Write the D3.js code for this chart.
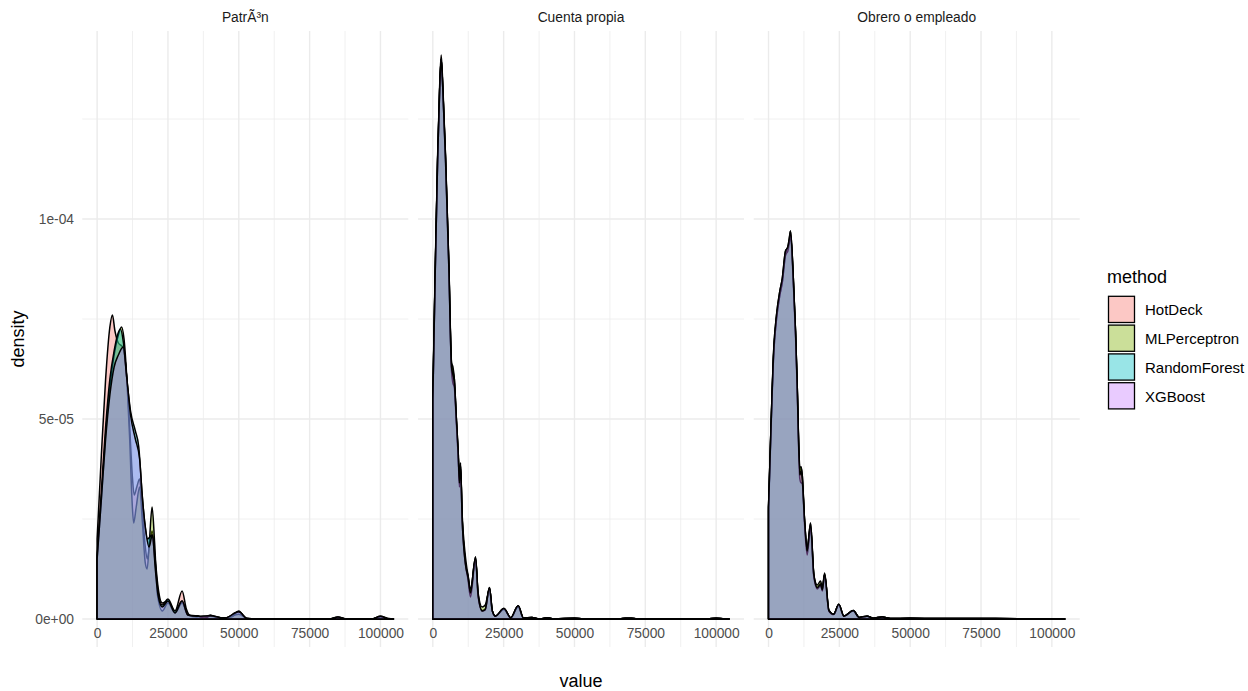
<!DOCTYPE html>
<html>
<head>
<meta charset="utf-8">
<script src="https://cdn.jsdelivr.net/npm/d3@7"></script>
<style>
  body { margin: 0; background: #fff; }
  svg { display: block; font-family: "Liberation Sans", Arial, sans-serif; }
</style>
</head>
<body>
<svg id="chart" width="1248" height="691"></svg>
<script>
// ---------- data ----------
const panels = ["PatrÃ³n", "Cuenta propia", "Obrero o empleado"];
const methods = ["HotDeck", "MLPerceptron", "RandomForest", "XGBoost"];
const methodColors = ["#F8766D", "#7CAE00", "#00BFC4", "#C77CFF"];

const xTicks = [0, 25000, 50000, 75000, 100000];
const xTickLabels = ["0", "25000", "50000", "75000", "100000"];
const xMinorTicks = [12500, 37500, 62500, 87500];
const yTicks = [0, 5e-5, 1e-4];
const yTickLabels = ["0e+00", "5e-05", "1e-04"];
const yMinorTicks = [2.5e-5, 7.5e-5, 1.25e-4];

// density curves: [value, density]
const patronHotDeck = [[0,2.0e-5],[1500,4.1e-5],[3000,6.0e-5],[4500,7.3e-5],[5400,7.6e-5],[6300,7.2e-5],[7500,6.9e-5],[9000,6.8e-5],[10500,6.0e-5],[11500,4.8e-5],[12400,3.6e-5],[13100,3.1e-5],[14000,3.3e-5],[15000,3.5e-5],[16000,2.7e-5],[17000,1.8e-5],[17700,1.5e-5],[18600,1.9e-5],[19400,2.2e-5],[20500,1.5e-5],[21500,8e-6],[23000,4e-6],[25000,4.5e-6],[27500,2e-6],[30000,7e-6],[31500,2.5e-6],[33000,8e-7],[35300,8e-7],[37500,3e-7],[40000,1e-6],[42500,2e-7],[45000,3e-7],[47500,5e-7],[50000,2e-6],[52500,2e-7],[55000,0],[82000,0],[85000,5e-7],[88000,0],[97000,0],[100000,7e-7],[103000,1e-7],[104600,0]];
const patronMLPerceptron = [[0,1.5e-5],[1500,3.0e-5],[3000,4.6e-5],[4500,5.8e-5],[6000,6.6e-5],[7500,7.1e-5],[8600,7.3e-5],[9500,7.0e-5],[10500,6.0e-5],[11500,4.5e-5],[12300,3.0e-5],[12900,2.4e-5],[13800,2.8e-5],[15000,3.3e-5],[16000,2.4e-5],[17000,1.4e-5],[17650,1.25e-5],[18500,2.0e-5],[19400,2.8e-5],[20300,1.9e-5],[21300,6e-6],[23000,2e-6],[25000,4e-6],[27500,1.5e-6],[30000,4e-6],[32000,1e-6],[35000,5e-7],[40000,7e-7],[45000,2e-7],[50000,1.2e-6],[53000,1e-7],[60000,0],[82000,0],[85000,3e-7],[88000,0],[97000,0],[100000,5e-7],[103000,0],[104600,0]];
const patronRandomForest = [[0,1.6e-5],[1500,3.2e-5],[3000,4.8e-5],[4500,6.0e-5],[6000,6.7e-5],[7200,7.1e-5],[8200,7.25e-5],[9300,6.9e-5],[10500,6.0e-5],[11800,5.2e-5],[13500,4.7e-5],[14700,4.3e-5],[15800,3.2e-5],[16800,2.4e-5],[17800,2.0e-5],[19400,2.1e-5],[20500,1.4e-5],[21500,7e-6],[23000,3.5e-6],[25000,5e-6],[27500,2e-6],[30000,4.5e-6],[32000,1e-6],[35300,8e-7],[38000,2e-7],[40000,8e-7],[45000,2e-7],[50000,1.8e-6],[53000,1e-7],[60000,0],[82000,0],[85000,4e-7],[88000,0],[97000,0],[100000,6e-7],[103000,0],[104600,0]];
const patronXGBoost = [[0,1.5e-5],[1500,3.0e-5],[3000,4.5e-5],[4500,5.6e-5],[6000,6.3e-5],[7500,6.6e-5],[9200,6.8e-5],[10500,6.0e-5],[11800,5.1e-5],[13500,4.5e-5],[15000,4.0e-5],[16000,3.0e-5],[17200,2.2e-5],[18300,1.8e-5],[19500,2.1e-5],[20600,1.2e-5],[21500,6e-6],[23000,3e-6],[25000,4.5e-6],[27500,1.5e-6],[30000,4.5e-6],[32000,1e-6],[35300,7e-7],[40000,8e-7],[45000,2e-7],[50000,1.8e-6],[53000,1e-7],[60000,0],[82000,0],[85000,5e-7],[88000,0],[97000,0],[100000,7e-7],[103000,0],[104600,0]];

const cuentaHotDeck = [[0,5.6e-5],[800,8.6e-5],[1700,1.16e-4],[2400,1.33e-4],[2950,1.41e-4],[3500,1.34e-4],[4470,1.16e-4],[5650,8.9e-5],[6600,6.4e-5],[7100,6.2e-5],[7600,6.0e-5],[8240,5.1e-5],[9000,4.1e-5],[9400,3.4e-5],[9770,3.9e-5],[10360,2.5e-5],[11300,1.55e-5],[11770,1.27e-5],[12400,1.1e-5],[13300,7.0e-6],[15070,1.55e-5],[16000,6e-6],[17400,2.1e-6],[18500,2.5e-6],[20000,7.9e-6],[21000,2e-6],[22100,7e-7],[25070,2.6e-6],[27500,3e-7],[30130,3.3e-6],[32000,2e-7],[35000,4e-7],[37500,0],[40400,3e-7],[43000,0],[50000,2e-7],[53000,0],[66000,0],[68000,2e-7],[70000,2e-7],[72000,0],[97000,0],[100000,2e-7],[103000,0],[104600,0]];
const cuentaMLPerceptron = [[0,5.4e-5],[800,8.5e-5],[1700,1.15e-4],[2400,1.32e-4],[2950,1.40e-4],[3500,1.33e-4],[4470,1.15e-4],[5650,8.8e-5],[6600,6.4e-5],[7100,6.3e-5],[7600,6.0e-5],[8240,5.1e-5],[9000,4.0e-5],[9400,3.5e-5],[9770,3.8e-5],[10360,2.6e-5],[11300,1.7e-5],[11770,1.4e-5],[12400,1.1e-5],[13300,7.5e-6],[15070,1.5e-5],[16000,6.5e-6],[17400,3.0e-6],[18500,3.5e-6],[20000,7.5e-6],[21000,2e-6],[22100,7e-7],[25070,2.4e-6],[27500,3e-7],[30130,3.0e-6],[32000,2e-7],[35000,4e-7],[37500,0],[40400,3e-7],[43000,0],[50000,2e-7],[53000,0],[66000,0],[68000,2e-7],[70000,2e-7],[72000,0],[97000,0],[100000,2e-7],[103000,0],[104600,0]];
const cuentaRandomForest = [[0,5.5e-5],[800,8.5e-5],[1700,1.15e-4],[2400,1.32e-4],[2950,1.40e-4],[3500,1.33e-4],[4470,1.16e-4],[5650,8.9e-5],[6600,6.2e-5],[7100,5.9e-5],[7600,5.8e-5],[8240,5.0e-5],[9000,4.0e-5],[9400,3.3e-5],[9770,3.8e-5],[10360,2.5e-5],[11300,1.5e-5],[11770,1.25e-5],[12400,1.0e-5],[13300,5.5e-6],[15070,1.5e-5],[16000,5.5e-6],[17400,2.0e-6],[18500,2.3e-6],[20000,7.8e-6],[21000,2e-6],[22100,7e-7],[25070,2.6e-6],[27500,3e-7],[30130,3.3e-6],[32000,2e-7],[35000,4e-7],[37500,0],[40400,3e-7],[43000,0],[50000,2e-7],[53000,0],[66000,0],[68000,2e-7],[70000,2e-7],[72000,0],[97000,0],[100000,2e-7],[103000,0],[104600,0]];
const cuentaXGBoost = [[0,5.5e-5],[800,8.5e-5],[1700,1.15e-4],[2400,1.32e-4],[2950,1.40e-4],[3500,1.33e-4],[4470,1.15e-4],[5650,8.8e-5],[6600,6.3e-5],[7100,6.1e-5],[7600,5.9e-5],[8240,5.1e-5],[9000,4.1e-5],[9400,3.4e-5],[9770,3.9e-5],[10360,2.5e-5],[11300,1.5e-5],[11770,1.25e-5],[12400,1.05e-5],[13300,6.5e-6],[15070,1.55e-5],[16000,6e-6],[17400,2.0e-6],[18500,2.4e-6],[20000,7.9e-6],[21000,2e-6],[22100,7e-7],[25070,2.6e-6],[27500,3e-7],[30130,3.3e-6],[32000,2e-7],[35000,4e-7],[37500,0],[40400,3e-7],[43000,0],[50000,2e-7],[53000,0],[66000,0],[68000,2e-7],[70000,2e-7],[72000,0],[97000,0],[100000,2e-7],[103000,0],[104600,0]];

const obreroHotDeck = [[0,2.8e-5],[700,4.4e-5],[1880,6.8e-5],[2820,7.6e-5],[4000,8.2e-5],[4830,8.5e-5],[6000,9.2e-5],[6830,9.3e-5],[7300,9.5e-5],[7770,9.7e-5],[8700,8.6e-5],[9530,7.2e-5],[10100,5.9e-5],[11060,3.7e-5],[11500,3.8e-5],[11900,3.6e-5],[12700,2.5e-5],[13650,1.75e-5],[14830,2.4e-5],[16000,1.1e-5],[17200,7.9e-6],[18360,8.8e-6],[19000,7.4e-6],[19800,1.12e-5],[21300,2.1e-6],[23000,1.2e-6],[24800,3.7e-6],[26600,7e-7],[29900,2.1e-6],[32000,4e-7],[34800,7e-7],[37000,2e-7],[40100,5e-7],[43000,1e-7],[50000,2e-7],[60000,1e-7],[80000,1e-7],[104600,0]];
const obreroMLPerceptron = [[0,2.7e-5],[700,4.3e-5],[1880,6.7e-5],[2820,7.5e-5],[4000,8.1e-5],[4830,8.4e-5],[6000,9.1e-5],[6830,9.3e-5],[7300,9.4e-5],[7770,9.6e-5],[8700,8.6e-5],[9530,7.2e-5],[10100,5.9e-5],[11060,3.8e-5],[11500,3.8e-5],[11900,3.6e-5],[12700,2.5e-5],[13650,1.8e-5],[14830,2.3e-5],[16000,1.1e-5],[17200,8.5e-6],[18360,9.5e-6],[19000,7.8e-6],[19800,1.15e-5],[21300,2.3e-6],[23000,1.2e-6],[24800,3.5e-6],[26600,7e-7],[29900,2.0e-6],[32000,4e-7],[34800,7e-7],[37000,2e-7],[40100,5e-7],[43000,1e-7],[50000,2e-7],[60000,1e-7],[80000,1e-7],[104600,0]];
const obreroRandomForest = [[0,2.8e-5],[700,4.4e-5],[1880,6.7e-5],[2820,7.5e-5],[4000,8.1e-5],[4830,8.4e-5],[6000,9.1e-5],[6830,9.2e-5],[7300,9.4e-5],[7770,9.6e-5],[8700,8.5e-5],[9530,7.1e-5],[10100,5.8e-5],[11060,3.5e-5],[11500,3.4e-5],[11900,3.4e-5],[12700,2.4e-5],[13650,1.6e-5],[14830,2.3e-5],[16000,1.05e-5],[17200,7.5e-6],[18360,8.3e-6],[19000,7.0e-6],[19800,1.1e-5],[21300,2.0e-6],[23000,1.1e-6],[24800,3.6e-6],[26600,7e-7],[29900,2.1e-6],[32000,4e-7],[34800,7e-7],[37000,2e-7],[40100,5e-7],[43000,1e-7],[50000,2e-7],[60000,1e-7],[80000,1e-7],[104600,0]];
const obreroXGBoost = [[0,2.8e-5],[700,4.4e-5],[1880,6.8e-5],[2820,7.6e-5],[4000,8.2e-5],[4830,8.5e-5],[6000,9.2e-5],[6830,9.3e-5],[7300,9.5e-5],[7770,9.7e-5],[8700,8.6e-5],[9530,7.2e-5],[10100,5.9e-5],[11060,3.6e-5],[11500,3.7e-5],[11900,3.5e-5],[12700,2.5e-5],[13650,1.7e-5],[14830,2.4e-5],[16000,1.1e-5],[17200,7.8e-6],[18360,8.6e-6],[19000,7.3e-6],[19800,1.12e-5],[21300,2.1e-6],[23000,1.2e-6],[24800,3.7e-6],[26600,7e-7],[29900,2.1e-6],[32000,4e-7],[34800,7e-7],[37000,2e-7],[40100,5e-7],[43000,1e-7],[50000,2e-7],[60000,1e-7],[80000,1e-7],[104600,0]];

const panelSeries = [
  [patronHotDeck, patronMLPerceptron, patronRandomForest, patronXGBoost],
  [cuentaHotDeck, cuentaMLPerceptron, cuentaRandomForest, cuentaXGBoost],
  [obreroHotDeck, obreroMLPerceptron, obreroRandomForest, obreroXGBoost]
];

// ---------- layout ----------
const svg = d3.select("#chart");
const panelLeft = [82.3, 418.0, 753.7];
const panelW = 326;
const panelTop = 31, panelBottom = 647;
const xRangeMax = 104600;
const xPad = xRangeMax * 0.05;
const yMaxData = 1.4e-4;
const yPad = yMaxData * 0.05;

const y = d3.scaleLinear().domain([-yPad, yMaxData + yPad]).range([panelBottom, panelTop]);

const fontTick = 13.8, fontTitle = 18, fontLegend = 15;

panels.forEach((name, pi) => {
  const x0 = panelLeft[pi];
  const x = d3.scaleLinear().domain([-xPad, xRangeMax + xPad]).range([x0, x0 + panelW]);
  const g = svg.append("g");

  // minor grid
  g.selectAll(".ymin").data(yMinorTicks).join("line")
    .attr("x1", x0).attr("x2", x0 + panelW)
    .attr("y1", d => y(d)).attr("y2", d => y(d))
    .attr("stroke", "#ebebeb").attr("stroke-width", 0.75);
  g.selectAll(".xmin").data(xMinorTicks).join("line")
    .attr("y1", panelTop).attr("y2", panelBottom)
    .attr("x1", d => x(d)).attr("x2", d => x(d))
    .attr("stroke", "#ebebeb").attr("stroke-width", 0.75);
  // major grid
  g.selectAll(".ymaj").data(yTicks).join("line")
    .attr("x1", x0).attr("x2", x0 + panelW)
    .attr("y1", d => y(d)).attr("y2", d => y(d))
    .attr("stroke", "#ebebeb").attr("stroke-width", 1.4);
  g.selectAll(".xmaj").data(xTicks).join("line")
    .attr("y1", panelTop).attr("y2", panelBottom)
    .attr("x1", d => x(d)).attr("x2", d => x(d))
    .attr("stroke", "#ebebeb").attr("stroke-width", 1.4);

  // densities
  const area = d3.area()
    .x(d => x(d[0])).y0(y(0)).y1(d => y(d[1]))
    .curve(d3.curveMonotoneX);
  panelSeries[pi].forEach((series, mi) => {
    g.append("path")
      .datum(series)
      .attr("d", area)
      .attr("fill", methodColors[mi])
      .attr("fill-opacity", 0.4)
      .attr("stroke", "#000")
      .attr("stroke-width", 1.5)
      .attr("stroke-linejoin", "round");
  });

  // strip label
  svg.append("text")
    .attr("x", x0 + panelW / 2).attr("y", 17)
    .attr("text-anchor", "middle").attr("dominant-baseline", "central")
    .attr("font-size", fontTick).attr("fill", "#1a1a1a")
    .text(name);

  // x axis labels
  const xAxis = d3.axisBottom(x).tickValues(xTicks)
    .tickFormat((d, i) => xTickLabels[i]).tickSize(0).tickPadding(0);
  const ax = svg.append("g").attr("transform", `translate(0,${panelBottom})`).call(xAxis);
  ax.select(".domain").remove();
  ax.selectAll("text").attr("font-size", fontTick).attr("fill", "#4d4d4d")
    .attr("font-family", "Liberation Sans, Arial, sans-serif")
    .attr("dy", null).attr("y", 0).attr("dominant-baseline", "central")
    .attr("transform", "translate(0,-14)");

  if (pi === 0) {
    const yAxis = d3.axisLeft(y).tickValues(yTicks)
      .tickFormat((d, i) => yTickLabels[i]).tickSize(0).tickPadding(0);
    const ay = svg.append("g").attr("transform", `translate(74,0)`).call(yAxis);
    ay.select(".domain").remove();
    ay.selectAll("text").attr("font-size", fontTick).attr("fill", "#4d4d4d")
      .attr("font-family", "Liberation Sans, Arial, sans-serif")
      .attr("dy", null).attr("x", 0).attr("dominant-baseline", "central");
  }
});

// axis titles
svg.append("text")
  .attr("x", (panelLeft[0] + panelLeft[2] + panelW) / 2).attr("y", 681)
  .attr("text-anchor", "middle").attr("dominant-baseline", "central")
  .attr("font-size", fontTitle).attr("fill", "#000").text("value");
svg.append("text")
  .attr("transform", `translate(18,${(panelTop + panelBottom) / 2}) rotate(-90)`)
  .attr("text-anchor", "middle").attr("dominant-baseline", "central")
  .attr("font-size", fontTitle).attr("fill", "#000").text("density");

// legend
const leg = svg.append("g");
leg.append("text").attr("x", 1107).attr("y", 277)
  .attr("dominant-baseline", "central")
  .attr("font-size", fontTitle).attr("fill", "#000").text("method");
const keyH = 28.8, keyTop = 295.5, keyW = 27;
methods.forEach((m, i) => {
  const ky = keyTop + i * keyH;
  leg.append("rect").attr("x", 1108.5).attr("y", ky + 0.8)
    .attr("width", keyW - 1).attr("height", keyH - 2.6)
    .attr("fill", methodColors[i]).attr("fill-opacity", 0.4)
    .attr("stroke", "#000").attr("stroke-width", 1.3);
  leg.append("text").attr("x", 1145).attr("y", ky + keyH / 2)
    .attr("dominant-baseline", "central")
    .attr("font-size", fontLegend).attr("fill", "#000").text(m);
});
</script>
</body>
</html>
